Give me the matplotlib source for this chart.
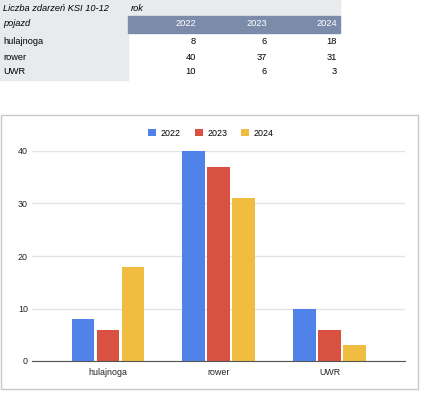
import matplotlib
matplotlib.use('Agg')
import matplotlib.pyplot as plt
import numpy as np
from matplotlib.patches import Rectangle

matplotlib.rcParams['font.family'] = ['Liberation Sans', 'DejaVu Sans']

### data
categories = ['hulajnoga', 'rower', 'UWR']
years = ['2022', '2023', '2024']
values = {
    '2022': [8, 40, 10],
    '2023': [6, 37, 6],
    '2024': [18, 31, 3],
}
colors = ['#4f83e9', '#d95140', '#f1bd40']
table_title = 'Liczba zdarzeń KSI 10-12'
col_header = 'rok'
row_header = 'pojazd'

W, H = 425, 393
fig = plt.figure(figsize=(W / 100, H / 100), dpi=100)

def px(x, y):
    return x / W, 1 - y / H

def rect(x0, y0, x1, y1, color, **kw):
    fx, fy = px(x0, y1)
    fig.patches.append(Rectangle((fx, fy), (x1 - x0) / W, (y1 - y0) / H,
                                 transform=fig.transFigure, color=color, zorder=0, **kw))

### table
gray = '#e8eaed'
head = '#7d8bab'
rect(0, 0, 340, 16, gray)
rect(0, 16, 128, 80, gray)
rect(128, 16, 340, 33, head)

tsize = 6.7
fig.text(*px(3, 8.5), table_title, style='italic', fontsize=tsize, va='center', ha='left')
fig.text(*px(131, 8.5), col_header, style='italic', fontsize=tsize, va='center', ha='left')
fig.text(*px(3, 24), row_header, style='italic', fontsize=tsize, va='center', ha='left')
col_right = [196, 267, 337]
for j, yr in enumerate(years):
    fig.text(*px(col_right[j], 24), yr, fontsize=tsize, color='white', va='center', ha='right')
row_y = [41.5, 57, 72]
for i, cat in enumerate(categories):
    fig.text(*px(3, row_y[i]), cat, fontsize=tsize, va='center', ha='left')
    for j, yr in enumerate(years):
        fig.text(*px(col_right[j], row_y[i]), str(values[yr][i]), fontsize=tsize,
                 va='center', ha='right')

### chart frame
rect(1, 115, 418, 389, 'none', fill=False, ec='#c8c8c8', lw=1.0)

### bar chart
l, b = px(32, 361)
r, t = px(405, 151)
ax = fig.add_axes([l, b, r - l, t - b])

x = np.arange(len(categories))
bw = 0.205
gap = 0.02
handles = []
for j, yr in enumerate(years):
    h = ax.bar(x + (j - 1) * (bw + gap), values[yr], width=bw, color=colors[j],
               label=yr, zorder=3, clip_on=False)
    handles.append(h)

ax.set_xlim(-0.685, 2.68)
ax.set_ylim(0, 40)
ax.set_yticks([0, 10, 20, 30, 40])
ax.set_xticks(x)
ax.set_xticklabels(categories)
ax.yaxis.grid(True, color='#e3e3e3', lw=1, zorder=0)
for s in ['top', 'right', 'left']:
    ax.spines[s].set_visible(False)
ax.spines['bottom'].set_color('#555555')
ax.spines['bottom'].set_zorder(4)
ax.tick_params(axis='both', length=0, labelsize=6.4, colors='#222222')
ax.tick_params(axis='y', pad=3)
ax.tick_params(axis='x', pad=5)

fig.legend(handles=handles, loc='center', bbox_to_anchor=px(211, 133), ncol=3,
           frameon=False, fontsize=6.4, handlelength=0.9, handleheight=0.9,
           handletextpad=0.5, columnspacing=1.6)

fig.savefig('out.png', dpi=100)
